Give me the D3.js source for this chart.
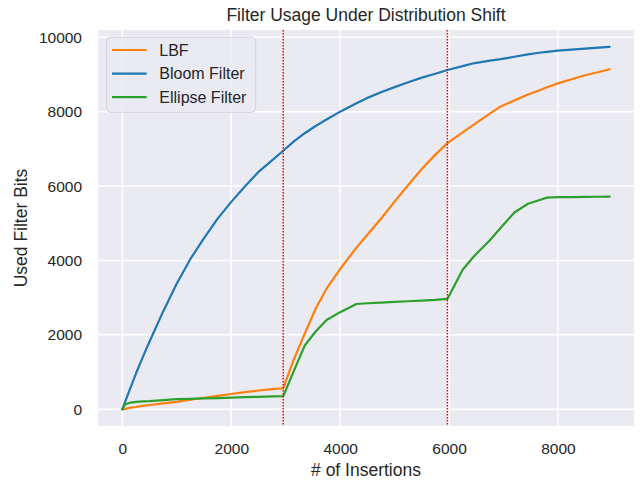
<!DOCTYPE html>
<html>
<head>
<meta charset="utf-8">
<script src="https://cdn.jsdelivr.net/npm/d3@7"></script>
<style>
  body { margin: 0; background: #fff; }
  text { font-family: "Liberation Sans", Arial, sans-serif; fill: #262626; }
</style>
</head>
<body>
<script>
const insertions = [0, 50, 125, 250, 375, 500, 750, 1000, 1250, 1500, 1750, 2000, 2250, 2500, 2750, 2955,
  3150, 3350, 3550, 3750, 4000, 4300, 4500, 4750, 5000, 5250, 5500, 5750, 5970,
  6250, 6450, 6750, 6950, 7200, 7450, 7650, 7800, 8000, 8250, 8500, 8750, 8950];

const lbf = [0, 10, 35, 60, 90, 115, 160, 200, 260, 310, 360, 410, 460, 505, 540, 565,
  1340, 2035, 2700, 3240, 3770, 4345, 4690, 5120, 5580, 6030, 6460, 6845, 7155,
  7445, 7645, 7945, 8140, 8300, 8460, 8570, 8655, 8760, 8870, 8980, 9065, 9140];

const bloom = [0, 200, 490, 960, 1400, 1820, 2630, 3380, 4040, 4600, 5125, 5575, 5990, 6380, 6690, 6950,
  7200, 7420, 7615, 7790, 8000, 8225, 8370, 8520, 8660, 8790, 8915, 9020, 9120,
  9225, 9300, 9370, 9410, 9475, 9540, 9583, 9608, 9640, 9668, 9692, 9720, 9740];

const ellipse = [0, 130, 170, 200, 212, 220, 245, 270, 280, 290, 300, 315, 325, 335, 345, 350,
  1030, 1715, 2090, 2400, 2610, 2830, 2850, 2866, 2885, 2903, 2921, 2940, 2965,
  3750, 4100, 4545, 4880, 5290, 5525, 5620, 5690, 5700, 5705, 5708, 5712, 5715];

const seriesNames = ["LBF", "Bloom Filter", "Ellipse Filter"];
const seriesColors = ["#ff7f0e", "#1f77b4", "#2ca02c"];
const shiftPoints = [2955, 5970];
const xTicks = [0, 2000, 4000, 6000, 8000];
const yTicks = [0, 2000, 4000, 6000, 8000, 10000];

const width = 641;
const height = 482;
const margin = { top: 30, right: 7, bottom: 56, left: 98 };

const svg = d3.select("body").append("svg")
  .attr("width", width)
  .attr("height", height);

const x = d3.scaleLinear()
  .domain([-447.5, 9397.5])
  .range([margin.left, width - margin.right]);

const y = d3.scaleLinear()
  .domain([-450, 10195])
  .range([height - margin.bottom, margin.top]);

// plot background
svg.append("rect")
  .attr("x", margin.left)
  .attr("y", margin.top)
  .attr("width", width - margin.left - margin.right)
  .attr("height", height - margin.top - margin.bottom)
  .attr("fill", "#eaeaf2");

// grid
const grid = svg.append("g").attr("stroke", "#fff").attr("stroke-width", 1.5);
grid.selectAll(".gx").data(xTicks).join("line")
  .attr("x1", d => x(d)).attr("x2", d => x(d))
  .attr("y1", margin.top).attr("y2", height - margin.bottom);
grid.selectAll(".gy").data(yTicks).join("line")
  .attr("x1", margin.left).attr("x2", width - margin.right)
  .attr("y1", d => y(d)).attr("y2", d => y(d));

// axes
const xAxis = svg.append("g")
  .attr("transform", `translate(0,${height - margin.bottom})`)
  .call(d3.axisBottom(x).tickValues(xTicks).tickSize(0).tickPadding(17).tickFormat(d3.format("d")));
xAxis.select(".domain").remove();
xAxis.selectAll("text").attr("font-size", 15.5).style("font-family", "'Liberation Sans', Arial, sans-serif").attr("fill", "#262626");

const yAxis = svg.append("g")
  .attr("transform", `translate(${margin.left},0)`)
  .call(d3.axisLeft(y).tickValues(yTicks).tickSize(0).tickPadding(16).tickFormat(d3.format("d")));
yAxis.select(".domain").remove();
yAxis.selectAll("text").attr("font-size", 15.5).style("font-family", "'Liberation Sans', Arial, sans-serif").attr("fill", "#262626");

// series lines
const allSeries = [lbf, bloom, ellipse];
const line = d3.line()
  .x((d, i) => x(insertions[i]))
  .y(d => y(d));

svg.append("g")
  .selectAll("path")
  .data(allSeries)
  .join("path")
  .attr("fill", "none")
  .attr("stroke", (d, i) => seriesColors[i])
  .attr("stroke-width", 2.2)
  .attr("stroke-linejoin", "round")
  .attr("stroke-linecap", "round")
  .attr("d", line);

// distribution shift markers
svg.append("g")
  .selectAll("line")
  .data(shiftPoints)
  .join("line")
  .attr("x1", d => x(d)).attr("x2", d => x(d))
  .attr("y1", margin.top).attr("y2", height - margin.bottom)
  .attr("stroke", "red")
  .attr("stroke-width", 1.5)
  .attr("stroke-dasharray", "1.5,1.5");

// title and labels
svg.append("text")
  .attr("x", (margin.left + width - margin.right) / 2)
  .attr("y", 21)
  .attr("text-anchor", "middle")
  .attr("font-size", 17.5)
  .text("Filter Usage Under Distribution Shift");

svg.append("text")
  .attr("x", (margin.left + width - margin.right) / 2)
  .attr("y", 476)
  .attr("text-anchor", "middle")
  .attr("font-size", 17.5)
  .text("# of Insertions");

svg.append("text")
  .attr("transform", `translate(27,${(margin.top + height - margin.bottom) / 2}) rotate(-90)`)
  .attr("text-anchor", "middle")
  .attr("font-size", 17.5)
  .text("Used Filter Bits");

// legend
const legend = svg.append("g").attr("transform", "translate(106.7,37.3)");
legend.append("rect")
  .attr("width", 149)
  .attr("height", 75)
  .attr("rx", 4)
  .attr("fill", "#eaeaf2")
  .attr("fill-opacity", 0.8)
  .attr("stroke", "#cccccc")
  .attr("stroke-opacity", 0.8);

const item = legend.selectAll(".item")
  .data(seriesNames)
  .join("g")
  .attr("transform", (d, i) => `translate(0,${12.7 + i * 23.6})`);
item.append("line")
  .attr("x1", 5.3).attr("x2", 40)
  .attr("stroke", (d, i) => seriesColors[i])
  .attr("stroke-width", 2.2);
item.append("text")
  .attr("x", 52.6)
  .attr("dy", "0.36em")
  .attr("font-size", 16)
  .text(d => d);
</script>
</body>
</html>
